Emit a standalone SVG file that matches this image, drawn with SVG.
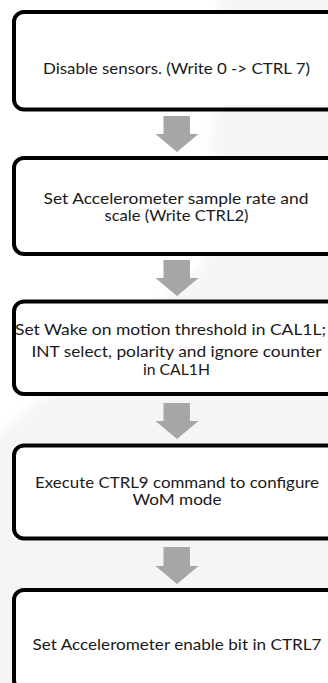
<svg xmlns="http://www.w3.org/2000/svg" width="328" height="683" viewBox="0 0 328 683">
<defs>
<filter id="soft" x="-20%" y="-20%" width="140%" height="140%"><feGaussianBlur stdDeviation="6"/></filter>
</defs>
<style>
.box{fill:#ffffff;stroke:#000000;stroke-width:4}
.arr{fill:#a6a6a6;stroke:none}
.t{font-family:Lato,"Open Sans","Liberation Sans",sans-serif;font-size:15px;fill:#1a1a1a;text-anchor:middle}
</style>
<rect x="0" y="0" width="328" height="683" fill="#ffffff"/>
<polygon points="222,-20 350,-20 350,700 -20,700 -20,450 205,265" fill="#f5f5f5" filter="url(#soft)"/>
<g id="connectors">
<polygon class="arr" points="163.5,116 190,116 190,134 198.5,134 177,152 155.5,134 163.5,134"/>
<polygon class="arr" points="163.5,260 190,260 190,278 198.5,278 177,296 155.5,278 163.5,278"/>
<polygon class="arr" points="163.5,403 190,403 190,421 198.5,421 177,439 155.5,421 163.5,421"/>
<polygon class="arr" points="163.5,547 190,547 190,566 198.5,566 177,584 155.5,566 163.5,566"/>
</g>
<g id="n1">
<rect class="box" x="14" y="12" width="326" height="97.5" rx="10"/>
<text class="t" x="176.5" y="73.5" textLength="267" lengthAdjust="spacingAndGlyphs">Disable sensors. (Write 0 -&gt; CTRL 7)</text>
</g>
<g id="n2">
<rect class="box" x="14" y="158" width="326" height="96" rx="10"/>
<text class="t" x="176" y="204" textLength="265" lengthAdjust="spacingAndGlyphs">Set Accelerometer sample rate and</text>
<text class="t" x="176.5" y="221" textLength="144" lengthAdjust="spacingAndGlyphs">scale (Write CTRL2)</text>
</g>
<g id="n3">
<rect class="box" x="14" y="301.5" width="326" height="92.5" rx="10"/>
<text class="t" x="170.5" y="335" textLength="311" lengthAdjust="spacingAndGlyphs">Set Wake on motion threshold in CAL1L;</text>
<text class="t" x="176.5" y="357" textLength="290" lengthAdjust="spacingAndGlyphs">INT select, polarity and ignore counter</text>
<text class="t" x="176.5" y="375" textLength="67" lengthAdjust="spacingAndGlyphs">in CAL1H</text>
</g>
<g id="n4">
<rect class="box" x="14" y="445.5" width="326" height="93" rx="10"/>
<text class="t" x="177" y="488" textLength="284" lengthAdjust="spacingAndGlyphs">Execute CTRL9 command to configure</text>
<text class="t" x="177" y="505" textLength="89" lengthAdjust="spacingAndGlyphs">WoM mode</text>
</g>
<g id="n5">
<rect class="box" x="14" y="590" width="326" height="100" rx="10"/>
<text class="t" x="177" y="650" textLength="289" lengthAdjust="spacingAndGlyphs">Set Accelerometer enable bit in CTRL7</text>
</g>
</svg>
